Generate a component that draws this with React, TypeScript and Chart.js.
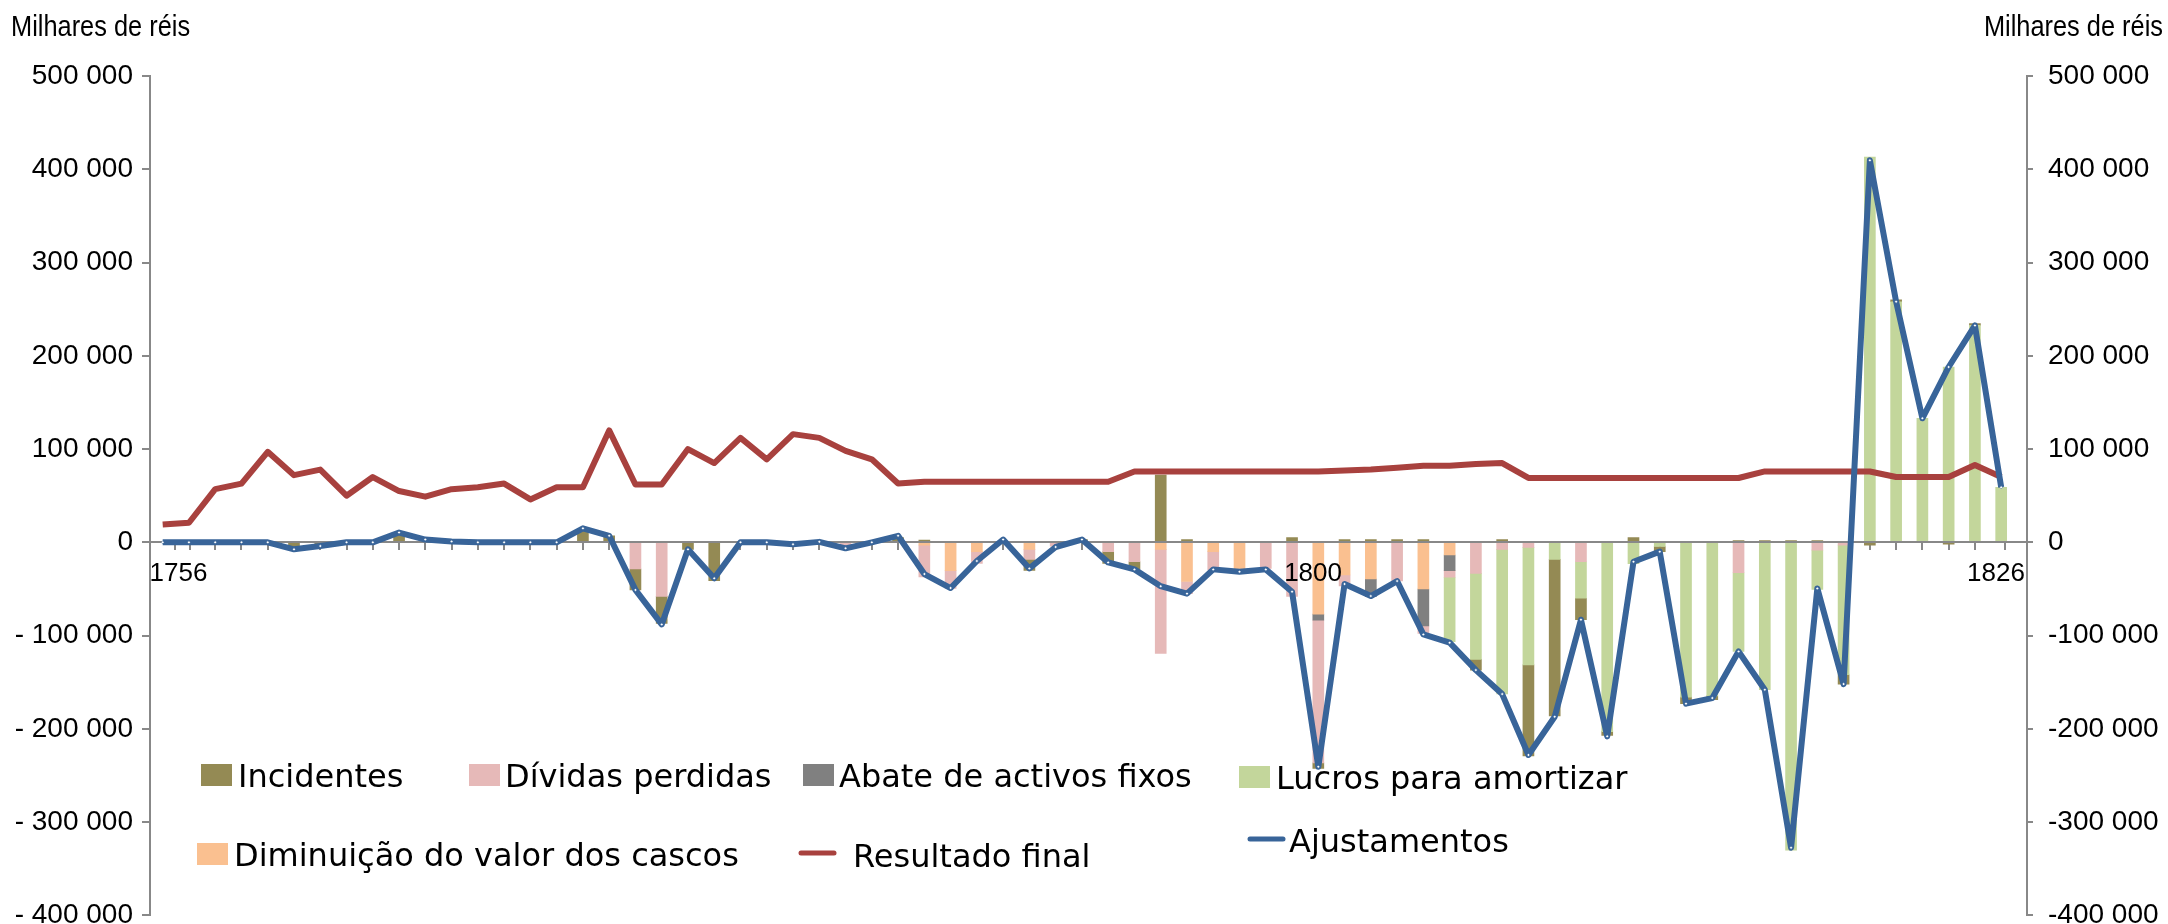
import React, { useEffect, useRef } from 'react';
import { Chart, registerables } from 'chart.js';

Chart.register(...registerables);

// ---------- data (milhares de réis) ----------
const years = [
  1756, 1757, 1758, 1759, 1760, 1761, 1762, 1763, 1764, 1765,
  1766, 1767, 1768, 1769, 1770, 1771, 1772, 1773, 1774, 1775,
  1776, 1777, 1778, 1779, 1780, 1781, 1782, 1783, 1784, 1785,
  1786, 1787, 1788, 1789, 1790, 1791, 1792, 1793, 1794, 1795,
  1796, 1797, 1798, 1799, 1800, 1801, 1802, 1803, 1804, 1805,
  1806, 1807, 1808, 1809, 1810, 1811, 1812, 1813, 1814, 1815,
  1816, 1817, 1818, 1819, 1820, 1821, 1822, 1823, 1824, 1825,
  1826,
];

const xTickLabels = [1756, 1800, 1826];

const diminuicao = [
  0, 0, 0, 0, 0, 0, 0, 0, 0, 0,
  0, 0, 0, 0, 0, 0, 0, 0, 0, 0,
  0, 0, 0, 0, 0, 0, 0, 0, 0, -3000,
  -30400, -10000, 0, -7500, 0, 0, 0, 0, -7500, -42000,
  -10000, -29700, 0, 0, -77000, -35000, -39300, 0, -50000, -13600,
  0, 0, 0, 0, 0, 0, 0, 0, 0, 0,
  0, 0, 0, 0, 0, 0, 0, 0, 0, 0,
  0,
];

const abate = [
  0, 0, 0, 0, 0, 0, 0, 0, 0, 0,
  0, 0, 0, 0, 0, 0, 0, 0, 0, 0,
  0, 0, 0, 0, 0, 0, 0, 0, 0, 0,
  0, 0, 0, 0, 0, 0, 0, 0, 0, 0,
  0, 0, 0, 0, -6400, 0, -19000, 0, -39700, -16800,
  0, 0, 0, 0, 0, 0, 0, 0, 0, 0,
  0, 0, 0, 0, 0, 0, 0, 0, 0, 0,
  0,
];

const dividas = [
  0, 0, 0, 0, 0, 0, 0, 0, 0, 0,
  0, 0, 0, 0, 0, 0, 0, 0, -28600, -58000,
  0, 0, 0, 0, -2000, 0, -6000, 0, 0, -34000,
  -19000, -12500, 0, -10700, -4000, 0, -10000, -20800, -111500, -13000,
  -19700, 0, -28000, -58000, -153000, -11800, 0, -41500, -8000, -7000,
  -33200, -7500, -5400, 0, -20800, 0, 0, 0, 0, 0,
  -32600, 0, 0, -8400, -3000, 0, 0, 0, 0, 0,
  0,
];

const lucros = [
  0, 0, 0, 0, 0, 0, 0, 0, 0, 0,
  0, 0, 0, 0, 0, 0, 0, 0, 0, 0,
  0, 0, 0, 0, 0, 0, 0, 0, 0, 0,
  0, 0, 0, 0, 0, 0, 0, 0, 0, 0,
  0, 0, 0, 0, 0, 0, 0, 0, 0, -69000,
  -92300, -155000, -126000, -18200, -39200, -203000, -23000, -4500, -166000, -164600,
  -84400, -158000, -330000, -42000, -139000, 413000, 258000, 133000, 188000, 232600,
  59000,
];

const incidentes = [
  0, 0, 0, 0, 0, -7000, -3000, 0, 0, 9000,
  0, 0, 0, 0, 0, 0, 14000, 7000, -22500, -29000,
  -7500, -41000, 0, 0, 0, 1000, 0, 0, 5000, 2500,
  0, 0, 0, -12000, 0, 3000, -12500, -8000, 72000, 3000,
  0, 0, 0, 5000, -6000, 3000, 3000, 3000, 3000, 0,
  -11500, 3000, -97600, -168000, -23000, -4000, 5000, -5500, -7000, -4000,
  2000, 2000, 2000, 2000, -10000, -3000, 2000, 0, -2000, 2000,
  0,
];

const resultadoFinal = [
  19000, 21000, 57000, 63000, 97000, 72000, 78000, 50000, 70000, 55000,
  49000, 57000, 59000, 63000, 46000, 59000, 59000, 120000, 62000, 62000,
  100000, 85000, 112000, 89000, 116000, 112000, 98000, 89000, 63000, 65000,
  65000, 65000, 65000, 65000, 65000, 65000, 65000, 76000, 76000, 76000,
  76000, 76000, 76000, 76000, 76000, 77000, 78000, 80000, 82000, 82000,
  84000, 85000, 69000, 69000, 69000, 69000, 69000, 69000, 69000, 69000,
  69000, 76000, 76000, 76000, 76000, 76000, 70000, 70000, 70000, 83000,
  70000,
];

const ajustamentos = [
  0, 0, 0, 0, 0, -7500, -4000, 0, 0, 10500,
  3000, 1000, 0, 0, 0, 0, 15000, 7000, -51000, -88000,
  -7500, -38600, 0, 0, -2000, 500, -6400, 0, 7000, -34000,
  -49000, -20000, 3000, -28000, -5000, 3000, -21500, -29000, -47000, -55000,
  -29000, -31500, -29000, -53000, -240600, -44700, -57600, -41500, -98700, -107600,
  -137000, -162700, -228000, -187000, -83000, -208000, -20800, -10000, -173000, -167000,
  -117000, -158000, -327500, -49400, -152000, 409600, 258000, 133000, 188000, 232600,
  59000,
];

const Y_MIN = -400000;
const Y_MAX = 500000;
const Y_STEP = 100000;

// ---------- styles ----------
const C_OLIVE = '#948A54';
const C_PINK = '#E6B9B8';
const C_GRAY = '#808080';
const C_GREEN = '#C3D69B';
const C_ORANGE = '#FAC090';
const C_RED = '#A8413E';
const C_BLUE = '#386499';
const AXIS_C = '#888888';

const TICK_FAMILY = "'Liberation Sans', Arial, sans-serif";
const LEGEND_FONT = "32px 'DejaVu Sans', sans-serif";
const TITLE_FONT = "29px 'Liberation Sans', Arial, sans-serif";
const TITLE_SQUEEZE = 0.875;
const TITLE_TEXT = 'Milhares de réis';

type LegendItem = {
  label: string;
  color: string;
  kind: 'box' | 'line';
  x: number;
  textX: number;
  base: number;
  lineY?: number;
};

const legendItems: LegendItem[] = [
  { label: 'Incidentes', color: C_OLIVE, kind: 'box', x: 201, textX: 238, base: 787 },
  { label: 'Dívidas perdidas', color: C_PINK, kind: 'box', x: 469, textX: 505, base: 787 },
  { label: 'Abate de activos fixos', color: C_GRAY, kind: 'box', x: 803, textX: 839, base: 787 },
  { label: 'Lucros para amortizar', color: C_GREEN, kind: 'box', x: 1239, textX: 1276, base: 789 },
  { label: 'Diminuição do valor dos cascos', color: C_ORANGE, kind: 'box', x: 197, textX: 234, base: 866 },
  { label: 'Resultado final', color: C_RED, kind: 'line', x: 801, textX: 853, base: 867, lineY: 853 },
  { label: 'Ajustamentos', color: C_BLUE, kind: 'line', x: 1250, textX: 1289, base: 852, lineY: 839 },
];

// ---------- helpers ----------
const fmt = (n: number) => Math.abs(n).toFixed(0).replace(/\B(?=(\d{3})+(?!\d))/g, ' ');
const fmtLeft = (v: number) => (v < 0 ? '- ' + fmt(v) : fmt(v));
const fmtRight = (v: number) => (v < 0 ? '-' + fmt(v) : fmt(v));
// label nudges (Excel-like placement of the category labels)
const labelPos = (yr: number) => (yr === xTickLabels[0] ? yr + 0.6 : yr - 0.2);
const isHalf = (v: number) => Math.abs(v - Math.floor(v) - 0.5) < 1e-6;
const toPoints = (arr: number[]) =>
  arr.map((v, i) => ({ x: years[i], y: v === 0 ? null : v }));
const toLinePoints = (arr: number[]) => arr.map((v, i) => ({ x: years[i], y: v }));

const zeroLinePlugin = {
  id: 'zeroLine',
  beforeDatasetsDraw(chart: any) {
    chart.$zeroDrawn = false;
  },
  beforeDatasetDraw(chart: any, args: any) {
    if (chart.$zeroDrawn || args.meta.type !== 'line') return;
    chart.$zeroDrawn = true;
    const ctx = chart.ctx;
    const y = Math.round(chart.scales.y.getPixelForValue(0));
    const { left, right } = chart.chartArea;
    ctx.save();
    ctx.strokeStyle = AXIS_C;
    ctx.lineWidth = 2;
    ctx.beginPath();
    ctx.moveTo(left, y);
    ctx.lineTo(right, y);
    ctx.stroke();
    ctx.restore();
  },
};

const decorPlugin = {
  id: 'decor',
  afterDraw(chart: any) {
    const ctx = chart.ctx;
    ctx.save();
    // titles (condensed look)
    ctx.fillStyle = '#000';
    ctx.font = TITLE_FONT;
    ctx.textBaseline = 'alphabetic';
    ctx.save();
    ctx.scale(TITLE_SQUEEZE, 1);
    ctx.textAlign = 'left';
    ctx.fillText(TITLE_TEXT, 11 / TITLE_SQUEEZE, 36);
    ctx.textAlign = 'right';
    ctx.fillText(TITLE_TEXT, 2163 / TITLE_SQUEEZE, 36);
    ctx.restore();
    // legend
    ctx.font = LEGEND_FONT;
    ctx.textAlign = 'left';
    ctx.textBaseline = 'alphabetic';
    for (const it of legendItems) {
      if (it.kind === 'box') {
        ctx.fillStyle = it.color;
        ctx.fillRect(it.x, it.base - 23, 31, 22);
      } else {
        ctx.strokeStyle = it.color;
        ctx.lineWidth = 5;
        ctx.lineCap = 'round';
        ctx.beginPath();
        ctx.moveTo(it.x, it.lineY);
        ctx.lineTo(it.x + 33, it.lineY);
        ctx.stroke();
      }
      ctx.fillStyle = '#000';
      ctx.fillText(it.label, it.textX, it.base);
    }
    ctx.restore();
  },
};

export default function App() {
  const ref = useRef<HTMLCanvasElement>(null);

  useEffect(() => {
    const canvas = ref.current;
    if (!canvas) return;

    const barCommon = {
      type: 'bar' as const,
      yAxisID: 'y',
      xAxisID: 'x',
      order: 1,
      barThickness: 11,
      borderWidth: 0,
    };

    const chart = new Chart(canvas, {
      type: 'bar',
      data: {
        datasets: [
          {
            type: 'line',
            label: 'Ajustamentos',
            data: toLinePoints(ajustamentos),
            yAxisID: 'y2',
            xAxisID: 'x',
            order: 0,
            borderColor: C_BLUE,
            backgroundColor: C_BLUE,
            borderWidth: 6,
            borderJoinStyle: 'round',
            tension: 0,
            pointRadius: 1.5,
            pointStyle: 'rectRot',
            pointBackgroundColor: '#ffffff',
            pointBorderColor: C_BLUE,
            pointBorderWidth: 0.5,
            fill: false,
          } as any,
          {
            type: 'line',
            label: 'Resultado final',
            data: toLinePoints(resultadoFinal),
            yAxisID: 'y2',
            xAxisID: 'x',
            order: 0,
            borderColor: C_RED,
            backgroundColor: C_RED,
            borderWidth: 6,
            borderJoinStyle: 'round',
            tension: 0,
            pointRadius: 0,
            fill: false,
          } as any,
          { ...barCommon, label: 'Diminuição do valor dos cascos', data: toPoints(diminuicao), backgroundColor: C_ORANGE } as any,
          { ...barCommon, label: 'Abate de activos fixos', data: toPoints(abate), backgroundColor: C_GRAY } as any,
          { ...barCommon, label: 'Dívidas perdidas', data: toPoints(dividas), backgroundColor: C_PINK } as any,
          { ...barCommon, label: 'Lucros para amortizar', data: toPoints(lucros), backgroundColor: C_GREEN } as any,
          { ...barCommon, label: 'Incidentes', data: toPoints(incidentes), backgroundColor: C_OLIVE } as any,
        ],
      },
      options: {
        responsive: false,
        animation: false,
        devicePixelRatio: 1,
        events: [],
        layout: { padding: { top: 76, bottom: 8.6, left: 0, right: 0 } },
        plugins: {
          legend: { display: false },
          tooltip: { enabled: false },
          title: { display: false },
        },
        scales: {
          x: {
            type: 'linear',
            position: { y: 0 } as any,
            min: years[0],
            max: years[years.length - 1] + 0.5,
            stacked: true,
            afterBuildTicks: (axis: any) => {
              const ticks: { value: number }[] = [];
              for (const yr of years) ticks.push({ value: yr + 0.5 });
              for (const yr of xTickLabels) ticks.push({ value: labelPos(yr) });
              ticks.sort((a, b) => a.value - b.value);
              axis.ticks = ticks;
            },
            afterFit: (s: any) => {
              s.paddingLeft = 0;
              s.paddingRight = 0;
            },
            ticks: {
              z: 1,
              autoSkip: false,
              maxRotation: 0,
              minRotation: 0,
              padding: 8,
              color: '#000',
              font: { family: TICK_FAMILY, size: 26 },
              callback: (value: any) => {
                const yr = xTickLabels.find((y) => Math.abs(labelPos(y) - Number(value)) < 1e-6);
                return yr !== undefined ? String(yr) : '';
              },
            },
            grid: {
              drawOnChartArea: false,
              drawTicks: true,
              tickLength: 8,
              lineWidth: 2,
              color: (c: any) => (c.tick && isHalf(c.tick.value) ? AXIS_C : 'rgba(0,0,0,0)'),
            },
            border: { display: false },
          } as any,
          y: {
            type: 'linear',
            position: 'left',
            stacked: true,
            min: Y_MIN,
            max: Y_MAX,
            afterFit: (s: any) => {
              s.width = 150;
              s.paddingTop = 0;
              s.paddingBottom = 0;
            },
            ticks: {
              stepSize: Y_STEP,
              padding: 9,
              color: '#000',
              font: { family: TICK_FAMILY, size: 28 },
              callback: (v: any) => fmtLeft(Number(v)),
            },
            grid: { drawOnChartArea: false, drawTicks: true, tickLength: 8, color: AXIS_C, lineWidth: 2 },
            border: { display: true, color: AXIS_C, width: 2 },
          } as any,
          y2: {
            type: 'linear',
            position: 'right',
            stacked: false,
            min: Y_MIN,
            max: Y_MAX,
            afterFit: (s: any) => {
              s.width = 141;
              s.paddingTop = 0;
              s.paddingBottom = 0;
            },
            ticks: {
              stepSize: Y_STEP,
              padding: 15,
              color: '#000',
              font: { family: TICK_FAMILY, size: 28 },
              callback: (v: any) => fmtRight(Number(v)),
            },
            grid: { drawOnChartArea: false, drawTicks: true, tickLength: 6, color: AXIS_C, lineWidth: 2 },
            border: { display: true, color: AXIS_C, width: 2 },
          } as any,
        },
      },
      plugins: [zeroLinePlugin, decorPlugin],
    } as any);

    return () => chart.destroy();
  }, []);

  return (
    <div style={{ position: 'fixed', left: 0, top: 0, width: 2168, height: 924, background: '#ffffff' }}>
      <canvas ref={ref} width={2168} height={924} style={{ display: 'block' }} />
    </div>
  );
}
